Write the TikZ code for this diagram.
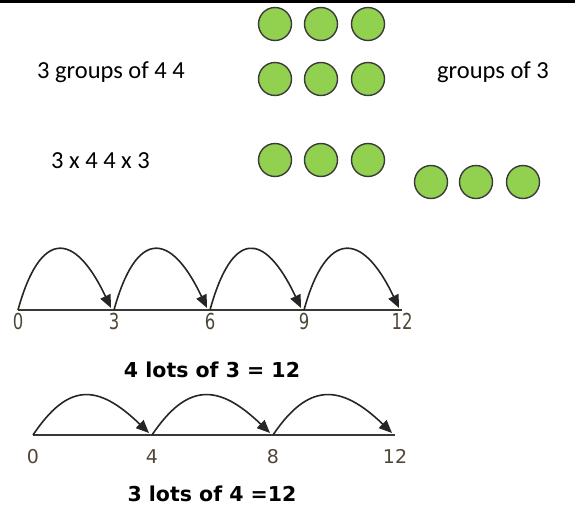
\documentclass[tikz,border=0pt]{standalone}
\usepackage{fontspec}
\setmainfont{Carlito}
\newfontfamily\numfont[FakeStretch=0.75]{DejaVu Sans}
\newfontfamily\lotsfont{DejaVu Sans}
\usetikzlibrary{arrows.meta,calc}
\definecolor{dotgreen}{HTML}{92D050}
\definecolor{dotedge}{HTML}{3A3A3A}
\definecolor{numcol}{HTML}{4F4638}
\begin{document}
\begin{tikzpicture}[x=1pt,y=-1pt,
  dot/.style={circle,draw=dotedge,line width=1.4pt,fill=dotgreen,minimum size=33pt,inner sep=0pt},
  bigtext/.style={anchor=base west,inner sep=0pt,font=\fontsize{24.5}{28}\selectfont},
  numlab/.style={anchor=north,inner sep=0pt,text=numcol,font=\numfont\fontsize{22}{24}\selectfont},
  numlabb/.style={anchor=north,inner sep=0pt,text=numcol,font=\lotsfont\fontsize{19}{22}\selectfont},
  lots/.style={inner sep=0pt,text=black,font=\lotsfont\bfseries\fontsize{20.5}{24}\selectfont},
  nline/.style={line width=2.2pt,draw=black!78},
  jump/.style={line width=1.6pt,draw=black!85,-{Triangle[length=13pt,width=11pt]}}]
\useasboundingbox (0,0) rectangle (575,506);
\fill[black] (0,0) rectangle (575,2.5);

% texts
\node[bigtext] (t1) at (37,78) {3 groups of 4 4};
\node[bigtext] (t2) at (437,78) {groups of 3};
\node[bigtext] (t3) at (51,168) {3 x 4 4 x 3};

% dots
\foreach \i/\x in {1/275,2/321,3/368}{
  \node[dot] (a\i) at (\x,24) {};
  \node[dot] (b\i) at (\x,79) {};
  \node[dot] (c\i) at (\x,160) {};
}
\foreach \i/\x in {1/431,2/476,3/523}{
  \node[dot] (d\i) at (\x,182) {};
}

% number line 1
\coordinate (p0) at (18,310);
\coordinate (p1) at (114,310);
\coordinate (p2) at (210,310);
\coordinate (p3) at (304,310);
\coordinate (p4) at (402,310);
\draw[nline] (p0) -- (p4);
\foreach \i/\v in {0/0,1/3,2/6,3/9,4/12}{
  \node[numlab] (l\i) at ($(p\i)+(0,3)$) {\v};
}
\foreach \a/\b in {0/1,1/2,2/3,3/4}{
  \draw[jump] (p\a) .. controls ($(p\a)+(22,-80)$) and ($(p\b)+(-40,-80)$) .. ($(p\b)+(-3,-2)$);
}
\node[lots] (m1) at (212,370) {4 lots of 3 = 12};

% number line 2
\coordinate (q0) at (33,435);
\coordinate (q1) at (152,435);
\coordinate (q2) at (273,435);
\coordinate (q3) at (395,435);
\draw[nline] (q0) -- (q3);
\foreach \i/\v in {0/0,1/4,2/8,3/12}{
  \node[numlabb] (k\i) at ($(q\i)+(0,14)$) {\v};
}
\foreach \a/\b in {0/1,1/2,2/3}{
  \draw[jump] (q\a) .. controls ($(q\a)+(35,-52)$) and ($(q\b)+(-55,-52)$) .. ($(q\b)+(-3,-2)$);
}
\node[lots] (m2) at (212,494) {3 lots of 4 =12};
\end{tikzpicture}
\end{document}
